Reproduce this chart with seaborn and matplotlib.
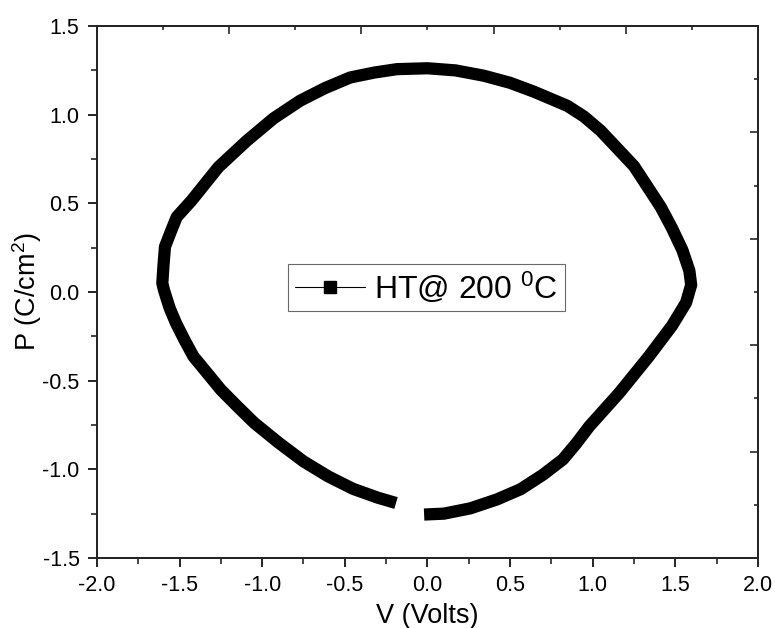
import matplotlib
matplotlib.use("Agg")
import matplotlib.pyplot as plt
import pandas as pd
import seaborn as sns
from matplotlib.lines import Line2D

# P-V loop, in drawing order (starts just right of the gap)
voltage = [
    -0.02, 0.10, 0.26, 0.42, 0.564, 0.70, 0.82, 0.90, 0.98, 1.16, 1.34, 1.48,
    1.565, 1.596, 1.585, 1.543, 1.48, 1.412, 1.25, 1.048, 0.947, 0.847, 0.644,
    0.50, 0.341, 0.17, 0.0, -0.184, -0.32, -0.467, -0.62, -0.77, -0.93, -1.093,
    -1.265, -1.426, -1.517, -1.555, -1.588, -1.597, -1.604, -1.594, -1.56,
    -1.521, -1.47, -1.416, -1.33, -1.25, -1.15, -1.048, -0.90, -0.75, -0.60,
    -0.45, -0.30, -0.19,
]
polarization = [
    -1.255, -1.250, -1.220, -1.170, -1.112, -1.03, -0.944, -0.855, -0.757, -0.57,
    -0.363, -0.19, -0.06, 0.04, 0.12, 0.236, 0.36, 0.479, 0.71, 0.91, 0.99, 1.05,
    1.13, 1.18, 1.22, 1.25, 1.262, 1.257, 1.238, 1.21, 1.15, 1.079, 0.98, 0.853,
    0.704, 0.517, 0.423, 0.335, 0.255, 0.15, 0.05, 0.011, -0.09, -0.176, -0.27,
    -0.363, -0.46, -0.551, -0.645, -0.738, -0.85, -0.955, -1.04, -1.11, -1.16,
    -1.19,
]
series_label = r"HT@ 200 $^{0}$C"

top_major = [-2.0, -1.2, -0.4, 0.4, 1.2, 2.0]
top_minor = [-1.6, -0.8, 0.0, 0.8, 1.6]
right_major = [-1.5, -0.9, -0.3, 0.3, 0.9, 1.5]
right_minor = [-1.2, -0.6, 0.0, 0.6, 1.2]

df = pd.DataFrame({"V": voltage, "P": polarization})

sns.set_style("ticks")
plt.rcParams["font.family"] = ["Liberation Sans", "DejaVu Sans"]
plt.rcParams["mathtext.fontset"] = "custom"
plt.rcParams["mathtext.rm"] = "Liberation Sans"
plt.rcParams["mathtext.it"] = "Liberation Sans:italic"
plt.rcParams["axes.linewidth"] = 1.3
plt.rcParams["axes.unicode_minus"] = False
plt.rcParams["axes.labelcolor"] = "black"
plt.rcParams["text.color"] = "black"

fig = plt.figure(figsize=(7.75, 6.28), dpi=100)
ax = fig.add_axes([0.125, 0.1115, 0.853, 0.847])

sns.lineplot(
    data=df, x="V", y="P", ax=ax, sort=False, estimator=None,
    color="black", linewidth=8.8, legend=False,
)
for ln in ax.lines:
    ln.set_solid_capstyle("butt")
    ln.set_solid_joinstyle("round")

ax.set_xlim(-2.0, 2.0)
ax.set_ylim(-1.5, 1.5)
ax.set_xticks([-2.0, -1.5, -1.0, -0.5, 0.0, 0.5, 1.0, 1.5, 2.0])
ax.set_xticks([-1.75, -1.25, -0.75, -0.25, 0.25, 0.75, 1.25, 1.75], minor=True)
ax.set_yticks([-1.5, -1.0, -0.5, 0.0, 0.5, 1.0, 1.5])
ax.set_yticks([-1.25, -0.75, -0.25, 0.25, 0.75, 1.25], minor=True)
ax.tick_params(which="major", direction="out", length=6.5, width=1.2,
               labelsize=15.5, color="black", labelcolor="black")
ax.tick_params(axis="x", which="major", pad=6)
ax.tick_params(axis="y", which="major", pad=6)
ax.tick_params(which="minor", direction="out", length=4, width=1.2)
ax.set_xlabel("V (Volts)", fontsize=19.5, labelpad=4.5)
ax.set_ylabel(r"P (C/cm$^{2}$)", fontsize=19.5, labelpad=-1)
for s in ax.spines.values():
    s.set_color("black")

ax_top = ax.twiny()
ax_top.set_xlim(ax.get_xlim())
ax_top.set_xticks(top_major)
ax_top.set_xticks(top_minor, minor=True)
ax_top.tick_params(which="major", direction="in", length=6, width=1.2, labeltop=False)
ax_top.tick_params(which="minor", direction="in", length=3, width=1.2)

ax_right = ax.twinx()
ax_right.set_ylim(ax.get_ylim())
ax_right.set_yticks(right_major)
ax_right.set_yticks(right_minor, minor=True)
ax_right.tick_params(which="major", direction="in", length=6, width=1.2, labelright=False)
ax_right.tick_params(which="minor", direction="in", length=3, width=1.2)

handle = Line2D([0], [0], color="black", linewidth=0.8, marker="s",
                markersize=8.4, markerfacecolor="black", markeredgecolor="black")
leg = ax_right.legend(
    handles=[handle], labels=[series_label], loc="center",
    bbox_to_anchor=(0.4985, 0.508), fontsize=23, frameon=True, fancybox=False,
    handlelength=2.2, handletextpad=0.3, borderpad=0.2, borderaxespad=0,
)
leg.get_frame().set_edgecolor("#444444")
leg.get_frame().set_linewidth(0.8)

fig.savefig("out.png", dpi=100)
